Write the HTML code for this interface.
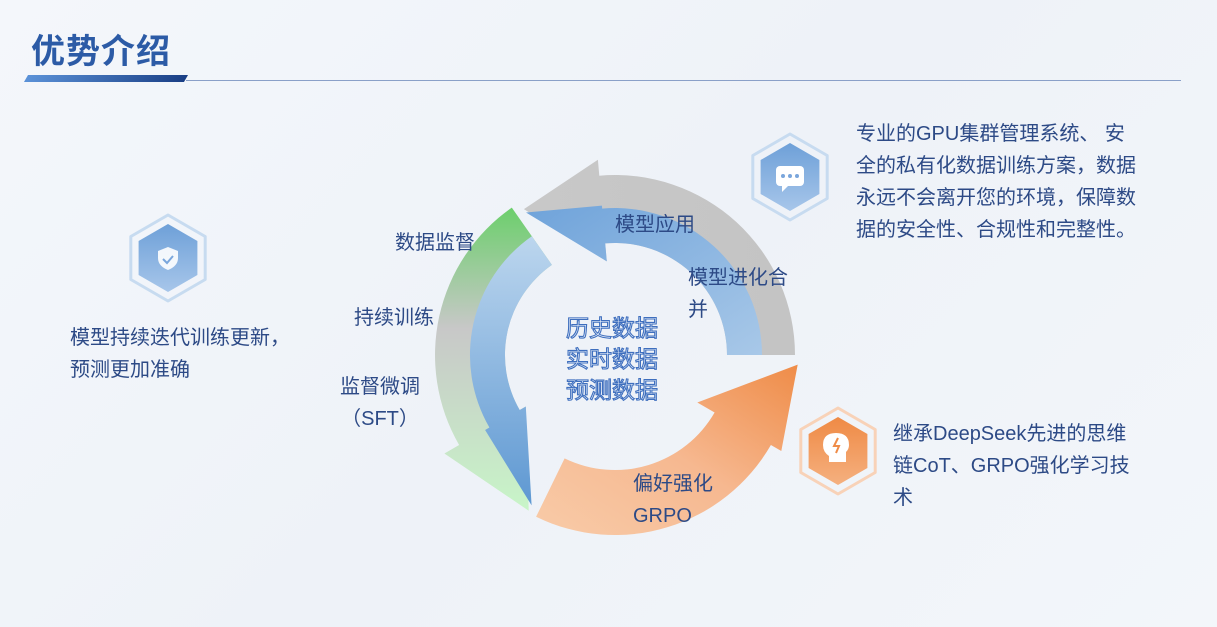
<!DOCTYPE html>
<html><head><meta charset="utf-8"><style>
body{margin:0;width:1217px;height:627px;overflow:hidden;position:relative;background:linear-gradient(135deg,#f4f7fb 0%,#eef2f8 50%,#f3f6fa 100%);font-family:"Liberation Sans","Noto Sans CJK SC",sans-serif;color:#2d4a86}
.t{position:absolute;font-size:20px;line-height:32px;white-space:nowrap}
h1{position:absolute;left:31px;top:24px;margin:0;font-size:34px;font-weight:bold;color:#2c5ba6;letter-spacing:1px}
</style></head><body>
<h1>优势介绍</h1>
<div style="position:absolute;left:26px;top:75px;width:160px;height:7px;background:linear-gradient(90deg,#5b92d8,#1a3f85);transform:skewX(-30deg)"></div>
<div style="position:absolute;left:186px;top:80px;width:995px;height:1px;background:#8aa0c8"></div>
<svg width="1217" height="627" style="position:absolute;left:0;top:0">
<defs>
<linearGradient id="gg" x1="0" y1="0" x2="1" y2="0"><stop offset="0" stop-color="#c8c8c8"/><stop offset="1" stop-color="#c4c4c4"/></linearGradient>
<linearGradient id="gb" x1="0" y1="0" x2="1" y2="1"><stop offset="0" stop-color="#6fa3da"/><stop offset="1" stop-color="#a8c8e8"/></linearGradient>
<linearGradient id="gn" x1="0" y1="0" x2="0" y2="1"><stop offset="0" stop-color="#6ccf6c"/><stop offset=".4" stop-color="#c8c8c8"/><stop offset="1" stop-color="#c8f5c8"/></linearGradient>
<linearGradient id="gl" x1="0" y1="0" x2="0" y2="1"><stop offset="0" stop-color="#bcd6ee"/><stop offset="1" stop-color="#5e98d2"/></linearGradient>
<linearGradient id="go" x1="0" y1="1" x2="1" y2="0"><stop offset="0" stop-color="#f8cba8"/><stop offset=".5" stop-color="#f6b890"/><stop offset="1" stop-color="#ef8c48"/></linearGradient>
<linearGradient id="hb" x1="0" y1="0" x2="0" y2="1"><stop offset="0" stop-color="#6ea0d8"/><stop offset="1" stop-color="#a7c6ea"/></linearGradient>
<linearGradient id="ho" x1="0" y1="0" x2="0" y2="1"><stop offset="0" stop-color="#ef8a45"/><stop offset="1" stop-color="#f5b07f"/></linearGradient>
</defs>
<g id="arrows"></g>
<g id="hex"></g>
<g font-size="23" fill="#eaf1fb" stroke="#3f6fbe" stroke-width="1.1" text-anchor="middle" font-family="Liberation Sans,Noto Sans CJK SC,sans-serif">
<text x="612" y="336">历史数据</text>
<text x="612" y="367">实时数据</text>
<text x="612" y="398">预测数据</text>
</g>
</svg>
<div class="t" style="left:395px;top:227px">数据监督</div>
<div class="t" style="left:354px;top:302px">持续训练</div>
<div class="t" style="left:340px;top:371px;text-align:center">监督微调<br>（SFT）</div>
<div class="t" style="left:615px;top:209px">模型应用</div>
<div class="t" style="left:688px;top:262px">模型进化合<br>并</div>
<div class="t" style="left:633px;top:468px">偏好强化<br>GRPO</div>
<div class="t" style="left:70px;top:322px">模型持续迭代训练更新，<br>预测更加准确</div>
<div class="t" style="left:856px;top:118px">专业的GPU集群管理系统、 安<br>全的私有化数据训练方案，数据<br>永远不会离开您的环境，保障数<br>据的安全性、合规性和完整性。</div>
<div class="t" style="left:893px;top:418px">继承DeepSeek先进的思维<br>链CoT、GRPO强化学习技<br>术</div>
<script>
var cx=615,cy=355;
function P(a,r){a=a*Math.PI/180;return (cx+r*Math.cos(a)).toFixed(1)+","+(cy-r*Math.sin(a)).toFixed(1);}
function arrow(a0,a1,r1,r2,rb1,rb2,ta,tr,fill){
 var big=(a1-a0)>180?1:0;
 var d="M"+P(a0,r2)+" A"+r2+","+r2+" 0 "+big+" 0 "+P(a1,r2)+" L"+P(a1,rb2)+" L"+P(ta,tr)+" L"+P(a1,rb1)+" L"+P(a1,r1)+" A"+r1+","+r1+" 0 "+big+" 1 "+P(a0,r1)+" Z";
 return '<path d="'+d+'" fill="'+fill+'" stroke-linejoin="round"/>';
}
var s="";
s+=arrow(0,95,112,180,94,196,122,172,"url(#gg)");
s+=arrow(0,95,112,147,94,150,122,168,"url(#gb)");
s+=arrow(125,210,110,180,103,197,241,178,"url(#gn)");
s+=arrow(125,210,110,145,103,150,241,172,"url(#gl)");
s+=arrow(244,330,115,180,95,192,357,183,"url(#go)");
document.getElementById("arrows").innerHTML=s;
function hex(x,y,R){var p=[];for(var i=0;i<6;i++){var a=(90+60*i)*Math.PI/180;p.push((x+R*Math.cos(a)).toFixed(1)+","+(y-R*Math.sin(a)).toFixed(1));}return p.join(" ");}
var h="";
[[168,258,"hb","#c7dbf0"],[790,177,"hb","#c7dbf0"],[838,451,"ho","#f8d2b8"]].forEach(function(c){
 h+='<polygon points="'+hex(c[0],c[1],43)+'" fill="none" stroke="'+c[3]+'" stroke-width="3" stroke-linejoin="round"/>';
 h+='<polygon points="'+hex(c[0],c[1],34)+'" fill="url(#'+c[2]+')" stroke-linejoin="round"/>';
});
h+='<path d="M168 247 l10 4 v7 q0 8 -10 12 q-10 -4 -10 -12 v-7z" fill="#fff" opacity=".9"/><path d="M163 259 l4 4 l6 -7" stroke="#7aa6dc" stroke-width="2" fill="none"/>';
h+='<rect x="776" y="166" width="28" height="20" rx="4" fill="#fff"/><path d="M782 186 l0 6 l6 -6z" fill="#fff"/><circle cx="783" cy="176" r="2" fill="#7aa6dc"/><circle cx="790" cy="176" r="2" fill="#7aa6dc"/><circle cx="797" cy="176" r="2" fill="#7aa6dc"/>';
h+='<path d="M829 462 v-6 q-6 -4 -6 -11 q0 -12 13 -12 q13 0 13 12 q0 4 -3 7 v10z" fill="#fff"/><path d="M838 438 l-4 8 h5 l-3 7" stroke="#ef8c48" stroke-width="2" fill="none"/>';
document.getElementById("hex").innerHTML=h;
</script>
</body></html>
